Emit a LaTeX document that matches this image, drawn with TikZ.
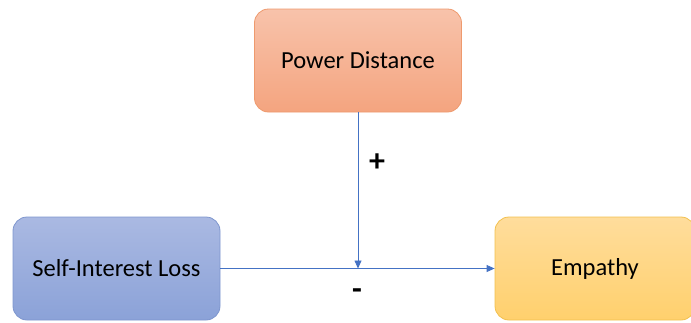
\documentclass[tikz,border=0pt]{standalone}
\usepackage{fontspec}
\setmainfont{Carlito}
\usetikzlibrary{arrows.meta}
\definecolor{pdtop}{HTML}{F8C3AB}
\definecolor{pdbot}{HTML}{F4A47F}
\definecolor{pdline}{HTML}{EE9A6E}
\definecolor{sltop}{HTML}{AAB9E2}
\definecolor{slbot}{HTML}{8BA2D8}
\definecolor{slline}{HTML}{7E96CE}
\definecolor{emtop}{HTML}{FFDD9C}
\definecolor{embot}{HTML}{FFD06D}
\definecolor{emline}{HTML}{F2C04E}
\definecolor{arr}{HTML}{4472C4}
\tikzset{
  box/.style={rounded corners=14pt, minimum width=207pt, minimum height=103pt, line width=0.8pt, inner sep=0pt, font=\fontsize{24.5}{28}\selectfont},
  conn/.style={draw=arr, line width=0.8pt, -{Triangle[length=8pt,width=7pt]}},
  sign/.style={font=\fontsize{32}{34}\selectfont\bfseries}
}
\begin{document}
\begin{tikzpicture}[x=1pt,y=-1pt]
\useasboundingbox (0,0) rectangle (691,322);
\begin{scope}
\clip (0,0) rectangle (691,322);
\node[box, draw=pdline, top color=pdtop, bottom color=pdbot] (pd) at (358,60.5) {Power Distance};
\node[box, draw=slline, top color=sltop, bottom color=slbot] (sl) at (116.5,268.5) {Self-Interest Loss};
\node[box, draw=emline, top color=emtop, bottom color=embot, minimum width=200pt] (em) at (595,268.5) {Empathy};
\end{scope}
\coordinate (mid) at (pd.south |- sl.east);
\draw[conn] (sl.east) -- (em.west);
\draw[conn] (pd.south) -- (mid);
\node[sign] (plus) at (377,163) {+};
\node[sign] (minus) at (357,294) {-};
\end{tikzpicture}
\end{document}
